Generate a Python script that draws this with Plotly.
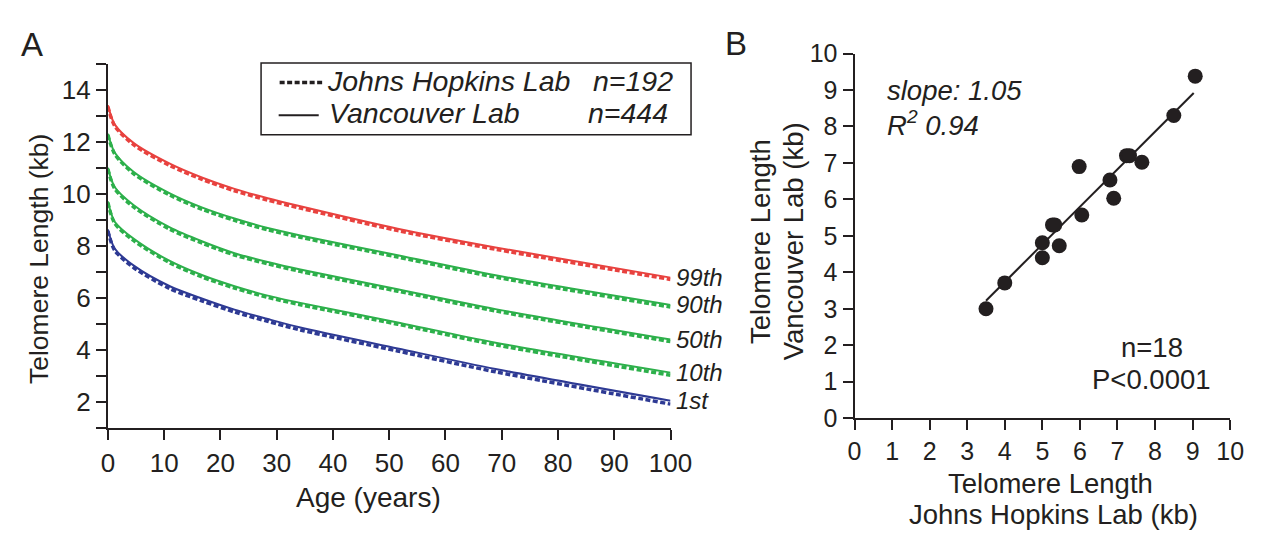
import plotly.graph_objects as go

# ---------------- Panel A data ----------------
ages = [0, 1.2, 4.6, 11, 16.8, 22.5, 28.4, 34.2, 51.5, 68.9, 100]

p99_vancouver = [13.41, 12.68, 11.96, 11.17, 10.63, 10.20, 9.84, 9.53, 8.67, 7.95, 6.79]
p90_vancouver = [12.32, 11.60, 10.85, 10.03, 9.48, 9.06, 8.70, 8.41, 7.65, 6.88, 5.74]
p50_vancouver = [11.01, 10.27, 9.57, 8.72, 8.18, 7.73, 7.39, 7.10, 6.34, 5.58, 4.41]
p10_vancouver = [9.72, 8.94, 8.28, 7.43, 6.88, 6.46, 6.10, 5.82, 5.07, 4.29, 3.14]
p1_vancouver = [8.64, 7.91, 7.25, 6.46, 5.98, 5.56, 5.20, 4.87, 4.07, 3.28, 2.06]

p99_hopkins = [13.36, 12.62, 11.89, 11.10, 10.56, 10.13, 9.77, 9.46, 8.60, 7.88, 6.72]
p90_hopkins = [12.27, 11.54, 10.78, 9.96, 9.41, 8.99, 8.63, 8.34, 7.58, 6.81, 5.66]
p50_hopkins = [10.96, 10.21, 9.50, 8.65, 8.11, 7.66, 7.32, 7.03, 6.27, 5.51, 4.33]
p10_hopkins = [9.67, 8.88, 8.21, 7.36, 6.81, 6.39, 6.03, 5.75, 5.00, 4.21, 3.04]
p1_hopkins = [8.58, 7.84, 7.17, 6.37, 5.89, 5.47, 5.11, 4.78, 3.97, 3.17, 1.93]

percentile_labels = ["99th", "90th", "50th", "10th", "1st"]
percentile_colors = ["#E8423F", "#2DB04B", "#2DB04B", "#2DB04B", "#2E3A94"]

a_x_ticks = list(range(0, 101, 10))
a_y_ticks = list(range(2, 15, 2))
a_y_minor_ticks = list(range(1, 16, 2))

# ---------------- Panel B data ----------------
hopkins_tl = [3.5, 4.0, 5.0, 5.0, 5.45, 5.27, 5.33, 6.05, 5.98, 6.8, 6.9, 7.24, 7.32, 7.65, 8.5, 9.07]
vancouver_tl = [3.0, 3.71, 4.4, 4.81, 4.73, 5.3, 5.3, 5.57, 6.9, 6.53, 6.03, 7.2, 7.2, 7.02, 8.3, 9.38]
fit_x = [3.5, 9.03]
fit_y = [3.22, 8.92]
b_ticks = list(range(0, 11))

INK = "#231F20"
FONT = "Liberation Sans, Arial, sans-serif"
W, H = 1272, 546


def px(x):
    return x / W


def py(y):
    return 1 - y / H


fig = go.Figure()

v_series = [p99_vancouver, p90_vancouver, p50_vancouver, p10_vancouver, p1_vancouver]
h_series = [p99_hopkins, p90_hopkins, p50_hopkins, p10_hopkins, p1_hopkins]

for vals, col in zip(h_series, percentile_colors):
    fig.add_trace(go.Scatter(x=ages, y=vals, mode="lines", xaxis="x", yaxis="y",
                             line=dict(color=col, width=3.5, dash="5px,2.5px", shape="spline", smoothing=0.8),
                             showlegend=False, hoverinfo="skip"))
for vals, col in zip(v_series, percentile_colors):
    fig.add_trace(go.Scatter(x=ages, y=vals, mode="lines", xaxis="x", yaxis="y",
                             line=dict(color=col, width=2, shape="spline", smoothing=0.8),
                             showlegend=False, hoverinfo="skip"))

# Panel B
fig.add_trace(go.Scatter(x=fit_x, y=fit_y, mode="lines", xaxis="x2", yaxis="y2",
                         line=dict(color=INK, width=2), showlegend=False, hoverinfo="skip"))
fig.add_trace(go.Scatter(x=hopkins_tl, y=vancouver_tl, mode="markers", xaxis="x2", yaxis="y2",
                         marker=dict(color=INK, size=15, line=dict(width=0)),
                         showlegend=False))

axis_common = dict(showline=True, linecolor=INK, linewidth=2, ticks="outside", ticklen=10,
                   tickwidth=2, tickcolor=INK, showgrid=False, zeroline=False, mirror=False)

fig.update_layout(
    width=W, height=H, autosize=False,
    margin=dict(l=0, r=0, t=0, b=0),
    paper_bgcolor="white", plot_bgcolor="white",
    font=dict(family=FONT, color=INK, size=24),
    xaxis=dict(domain=[px(103.3), px(679)], range=[0, 100], tickvals=a_x_ticks,
               tickfont=dict(family=FONT, size=26, color=INK), anchor="y", **axis_common),
    yaxis=dict(domain=[py(436.7), py(52.7)], range=[1, 15], tickvals=a_y_ticks,
               minor=dict(tickvals=a_y_minor_ticks, ticks="outside", ticklen=10, tickwidth=2,
                          tickcolor=INK, showgrid=False),
               tickfont=dict(family=FONT, size=26, color=INK), anchor="x", **axis_common),
    xaxis2=dict(domain=[px(867.3), px(1251.7)], range=[0, 10], tickvals=b_ticks,
                tickfont=dict(family=FONT, size=25, color=INK), anchor="y2", **axis_common),
    yaxis2=dict(domain=[py(426), py(41.7)], range=[0, 10], tickvals=b_ticks,
                tickfont=dict(family=FONT, size=25, color=INK), anchor="x2", **axis_common),
)

ann = []
for lab, vals in zip(percentile_labels, v_series):
    ann.append(dict(x=ages[-1], y=vals[-1], xref="x", yref="y", text=f"<i>{lab}</i>",
                    showarrow=False, xanchor="left", yanchor="middle", xshift=3,
                    font=dict(family=FONT, size=24, color=INK)))

ann.append(dict(x=px(32), y=py(258), xref="paper", yref="paper", text="Telomere Length (kb)",
                textangle=-90, showarrow=False, xanchor="center", yanchor="middle",
                font=dict(family=FONT, size=26.5, color=INK)))
ann.append(dict(x=px(370), y=py(510), xref="paper", yref="paper", text="Age (years)",
                showarrow=False, xanchor="center", yanchor="middle",
                font=dict(family=FONT, size=28, color=INK)))
ann.append(dict(x=px(26), y=py(32), xref="paper", yref="paper", text="A", showarrow=False,
                xanchor="center", yanchor="middle", font=dict(family=FONT, size=33, color=INK)))
ann.append(dict(x=px(746), y=py(31), xref="paper", yref="paper", text="B", showarrow=False,
                xanchor="center", yanchor="middle", font=dict(family=FONT, size=33, color=INK)))

leg_font = dict(family=FONT, size=28.5, color=INK)
ann.append(dict(x=px(325), y=py(71), xref="paper", yref="paper", text="<i>Johns Hopkins Lab</i>",
                showarrow=False, xanchor="left", yanchor="middle", font=leg_font))
ann.append(dict(x=px(598), y=py(71), xref="paper", yref="paper", text="<i>n=192</i>",
                showarrow=False, xanchor="left", yanchor="middle", font=leg_font))
ann.append(dict(x=px(327), y=py(104), xref="paper", yref="paper", text="<i>Vancouver Lab</i>",
                showarrow=False, xanchor="left", yanchor="middle", font=leg_font))
ann.append(dict(x=px(593), y=py(104), xref="paper", yref="paper", text="<i>n=444</i>",
                showarrow=False, xanchor="left", yanchor="middle", font=leg_font))

b_font = dict(family=FONT, size=27.5, color=INK)
# Panel B axis titles (one annotation per line)
ann.append(dict(x=px(771), y=py(240), xref="paper", yref="paper", text="Telomere Length",
                textangle=-90, showarrow=False, xanchor="center", yanchor="middle", font=b_font))
ann.append(dict(x=px(805), y=py(240), xref="paper", yref="paper", text="Vancouver Lab (kb)",
                textangle=-90, showarrow=False, xanchor="center", yanchor="middle", font=b_font))
ann.append(dict(x=px(1068), y=py(495), xref="paper", yref="paper", text="Telomere Length",
                showarrow=False, xanchor="center", yanchor="middle", font=b_font))
ann.append(dict(x=px(1071), y=py(528), xref="paper", yref="paper", text="Johns Hopkins Lab (kb)",
                showarrow=False, xanchor="center", yanchor="middle", font=b_font))
ann.append(dict(x=px(898), y=py(81), xref="paper", yref="paper", text="<i>slope: 1.05</i>",
                showarrow=False, xanchor="left", yanchor="middle", font=b_font))
ann.append(dict(x=px(898), y=py(115), xref="paper", yref="paper", text="<i>R<sup>2</sup> 0.94</i>",
                showarrow=False, xanchor="left", yanchor="middle", font=b_font))
ann.append(dict(x=px(1172), y=py(351), xref="paper", yref="paper", text="n=18",
                showarrow=False, xanchor="center", yanchor="middle", font=b_font))
ann.append(dict(x=px(1171), y=py(385), xref="paper", yref="paper", text="P<0.0001",
                showarrow=False, xanchor="center", yanchor="middle", font=b_font))

shapes = [
    dict(type="rect", xref="paper", yref="paper", x0=px(260), x1=px(700), y0=py(127.3), y1=py(51.7),
         line=dict(color=INK, width=1.5), fillcolor="white", layer="below"),
    dict(type="line", xref="paper", yref="paper", x0=px(279), x1=px(324), y0=py(72.3), y1=py(72.3),
         line=dict(color=INK, width=3.5, dash="5px,2.5px")),
    dict(type="line", xref="paper", yref="paper", x0=px(278), x1=px(319), y0=py(106.7), y1=py(106.7),
         line=dict(color=INK, width=2)),
]

fig.update_layout(annotations=ann, shapes=shapes)
fig.write_html("out.html",
               post_script="document.body.style.margin='0';document.body.style.overflow='hidden';")
